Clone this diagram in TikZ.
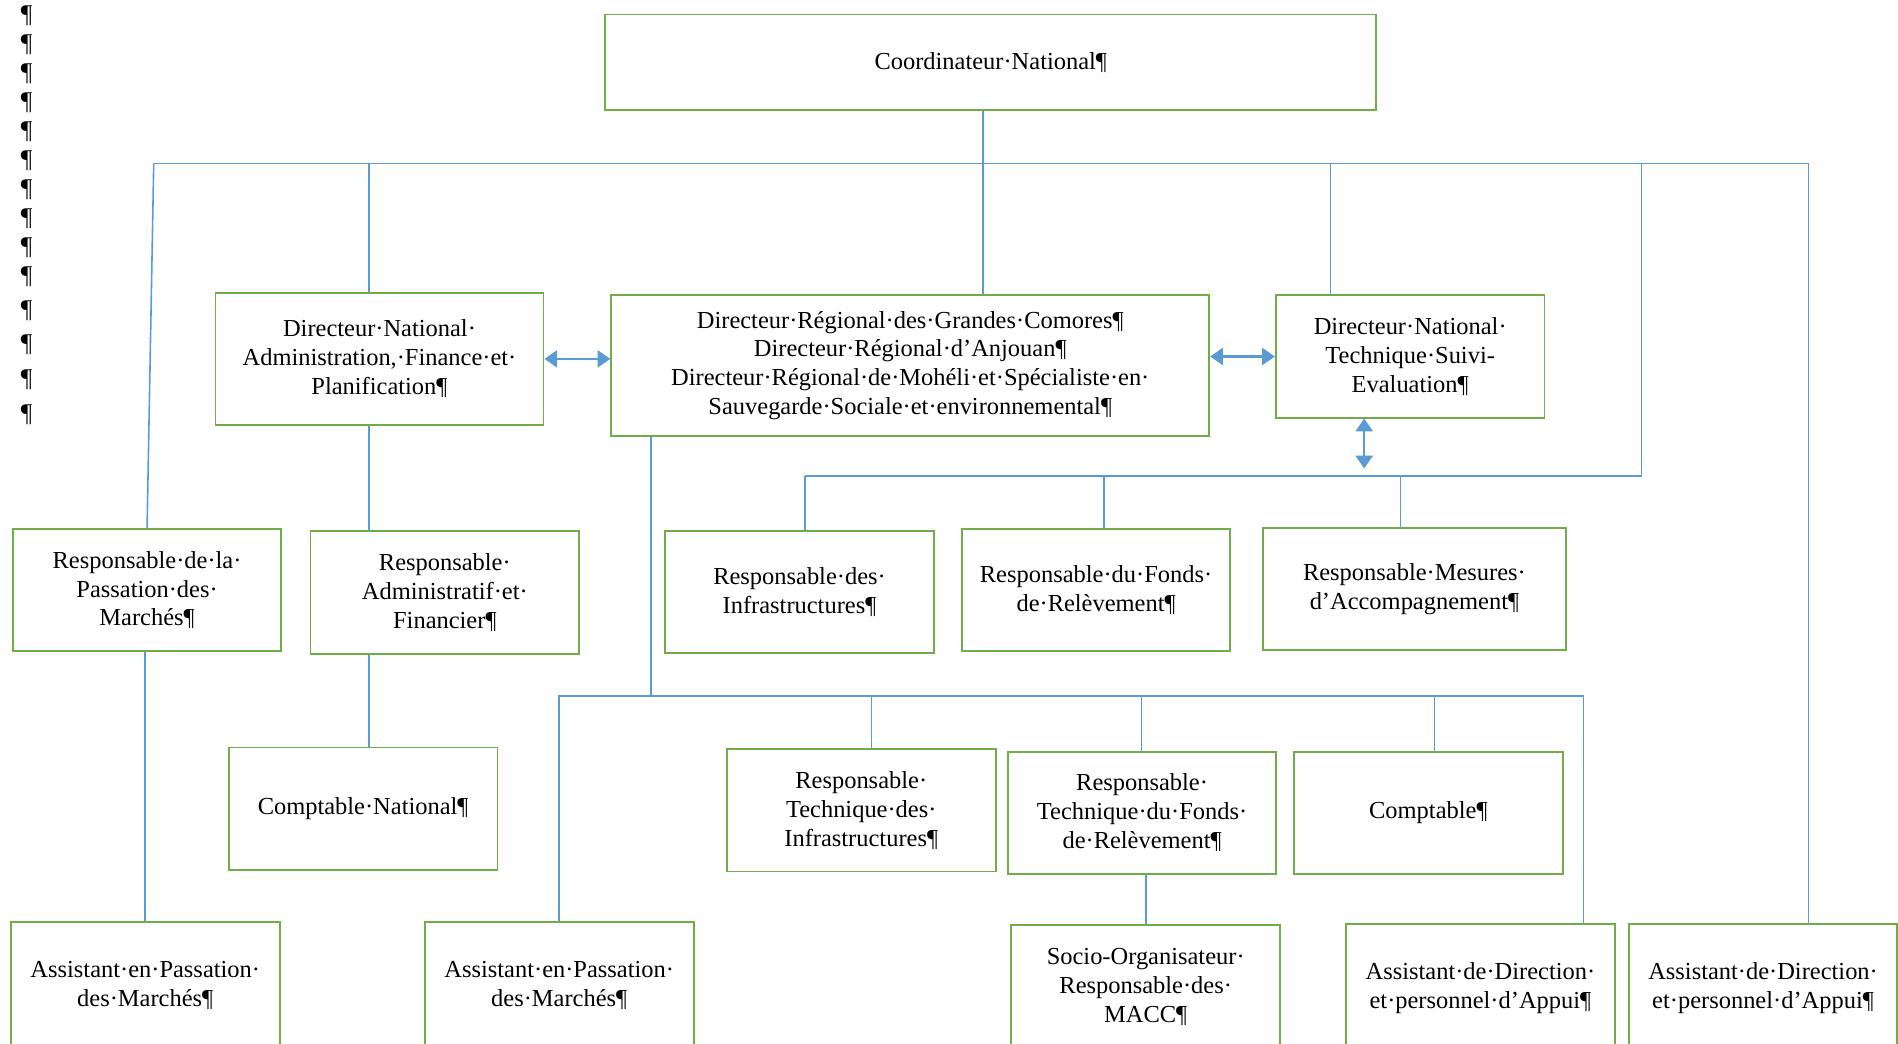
\documentclass[tikz,border=0pt]{standalone}
\usepackage{fontspec}
\setmainfont{Liberation Serif}
\usetikzlibrary{positioning,arrows.meta}
\definecolor{boxgreen}{RGB}{112,173,71}
\definecolor{linkblue}{RGB}{91,155,213}

\begin{document}
\begin{tikzpicture}[
  x=0.02cm, y=-0.02cm,
  box/.style={rectangle,draw=boxgreen,line width=0.9pt,align=center,inner sep=2pt,
    minimum width=4.44cm,minimum height=2.02cm,font=\fontsize{11.5}{13.6}\selectfont},
  low/.style={box,minimum height=2.1cm},
  pil/.style={inner sep=0pt,font=\fontsize{12}{13.6}\selectfont,node distance=0.48cm},
  link/.style={draw=linkblue,line width=0.75pt},
  dbl/.style={link,line width=1.1pt,{Triangle[length=6pt,width=8pt]}-{Triangle[length=6pt,width=8pt]}}
]
  \useasboundingbox (0,0) rectangle (1568,862);

  % margin marks
  \node [pil] (p0) at (22,13) {¶};
  \node [pil,below of=p0] (p1) {¶};
  \node [pil,below of=p1] (p2) {¶};
  \node [pil,below of=p2] (p3) {¶};
  \node [pil,below of=p3] (p4) {¶};
  \node [pil,below of=p4] (p5) {¶};
  \node [pil,below of=p5] (p6) {¶};
  \node [pil,below of=p6] (p7) {¶};
  \node [pil,below of=p7] (p8) {¶};
  \node [pil,below of=p8] (p9) {¶};
  \node [pil,below of=p9,node distance=0.56cm] (p10) {¶};
  \node [pil,below of=p10,node distance=0.56cm] (p11) {¶};
  \node [pil,below of=p11,node distance=0.58cm] (p12) {¶};
  \node [pil,below of=p12,node distance=0.58cm] (p13) {¶};

  % top
  \node [box,minimum width=12.74cm,minimum height=1.58cm] (coord) at (818.5,51.5) {Coordinateur·National¶};

  % directors
  \node [box,minimum width=5.42cm,minimum height=2.18cm] (dnafp) at (313.5,296.5)
    {Directeur·National·\\Administration,·Finance·et·\\Planification¶};
  \node [box,minimum width=9.88cm,minimum height=2.32cm] (dr) at (752,302)
    {Directeur·Régional·des·Grandes·Comores¶\\Directeur·Régional·d’Anjouan¶\\Directeur·Régional·de·Mohéli·et·Spécialiste·en·\\Sauvegarde·Sociale·et·environnemental¶};
  \node [box] (dntse) at (1165,294.5) {Directeur·National·\\Technique·Suivi-\\Evaluation¶};

  % responsables
  \node [box] (rpm) at (121.5,487.5) {Responsable·de·la·\\Passation·des·\\Marchés¶};
  \node [box] (raf) at (367.5,489.5) {Responsable·\\Administratif·et·\\Financier¶};
  \node [box] (cn) at (300,668) {Comptable·National¶};
  \node [box] (rinf) at (660.5,489) {Responsable·des·\\Infrastructures¶};
  \node [box] (rfr) at (905.5,487.5) {Responsable·du·Fonds·\\de·Relèvement¶};
  \node [box,minimum width=5.02cm] (rma) at (1168.5,486.5) {Responsable·Mesures·\\d’Accompagnement¶};
  \node [box] (rti) at (711.5,669.5) {Responsable·\\Technique·des·\\Infrastructures¶};
  \node [box] (rtf) at (943.5,671.5) {Responsable·\\Technique·du·Fonds·\\de·Relèvement¶};
  \node [box] (cpt) at (1180,671.5) {Comptable¶};

  % bottom row
  \node [low] (apm1) at (120,814) {Assistant·en·Passation·\\des·Marchés¶};
  \node [low] (apm2) at (462,814) {Assistant·en·Passation·\\des·Marchés¶};
  \node [box] (so) at (946.5,815) {Socio-Organisateur·\\Responsable·des·\\MACC¶};
  \node [low] (ad1) at (1223,816) {Assistant·de·Direction·\\et·personnel·d’Appui¶};
  \node [low] (ad2) at (1456.5,816) {Assistant·de·Direction·\\et·personnel·d’Appui¶};

  % first bus
  \coordinate (busL) at (127,135);
  \coordinate (busR) at (1494,135);
  \draw [link] (busL) -- (busR);
  \draw [link] (busL) -- (rpm.north);
  \draw [link] (busR) -- (busR |- ad2.north);
  \coordinate (spA) at (305,135);
  \draw [link] (spA) -- (spA |- dnafp.north);
  \draw [link] (spA |- dnafp.south) -- (spA |- raf.north);
  \draw [link] (spA |- raf.south) -- (spA |- cn.north);
  \coordinate (spC) at (812,135);
  \draw [link] (spC |- coord.south) -- (spC |- dr.north);
  \coordinate (spT) at (1099,135);
  \draw [link] (spT) -- (spT |- dntse.north);
  \draw [link] (apm1.north |- rpm.south) -- (apm1.north);

  % right branch
  \coordinate (spR) at (1356,135);
  \coordinate (busM) at (665,393);
  \coordinate (dFr) at (912,393);
  \coordinate (dMa) at (1157,393);
  \draw [link] (spR) |- (busM);
  \draw [link] (busM) -- (busM |- rinf.north);
  \draw [link] (dFr) -- (dFr |- rfr.north);
  \draw [link] (dMa) -- (dMa |- rma.north);
  \coordinate (aT) at (1127,387);
  \draw [dbl] (aT |- dntse.south) -- (aT);

  % second bus
  \coordinate (spD) at (538,575);
  \coordinate (busBL) at (462,575);
  \coordinate (busBR) at (1308,575);
  \coordinate (dTi) at (720,575);
  \coordinate (dTf) at (943,575);
  \coordinate (dCp) at (1185,575);
  \draw [link] (spD |- dr.south) -- (spD);
  \draw [link] (busBL |- apm2.north) -- (busBL) -- (busBR) -- (busBR |- ad1.north);
  \draw [link] (dTi) -- (dTi |- rti.north);
  \draw [link] (dTf) -- (dTf |- rtf.north);
  \draw [link] (dCp) -- (dCp |- cpt.north);
  \draw [link] (so.north |- rtf.south) -- (so.north);

  % side links
  \draw [dbl] (dnafp.east) -- (dnafp.east -| dr.west);
  \draw [dbl] (dntse.west -| dr.east) -- (dntse.west);
\end{tikzpicture}
\end{document}
